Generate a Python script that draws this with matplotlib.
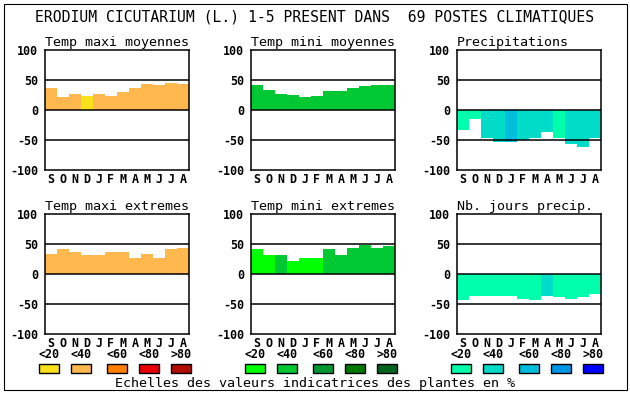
import matplotlib
matplotlib.use("Agg")
import matplotlib.pyplot as plt
from matplotlib.patches import Rectangle

### Data
months = ['S', 'O', 'N', 'D', 'J', 'F', 'M', 'A', 'M', 'J', 'J', 'A']

title = "ERODIUM CICUTARIUM (L.) 1-5 PRESENT DANS  69 POSTES CLIMATIQUES"
panel_titles = ["Temp maxi moyennes", "Temp mini moyennes", "Precipitations",
                "Temp maxi extremes", "Temp mini extremes", "Nb. jours precip."]

tmax_moy = [37, 22, 27, 23, 27, 23, 30, 37, 43, 42, 45, 43]
tmax_moy_cls = [1, 1, 1, 0, 1, 1, 1, 1, 1, 1, 1, 1]

tmin_moy = [42, 33, 27, 25, 22, 23, 32, 32, 37, 40, 42, 42]
tmin_moy_cls = [1, 1, 1, 1, 1, 1, 1, 1, 1, 1, 1, 1]

precip = [-34, -15, -47, -54, -53, -50, -47, -36, -47, -56, -61, -47]
precip_cls = [0, 0, 1, 1, 2, 1, 1, 1, 0, 1, 1, 1]

tmax_ext = [34, 42, 36, 32, 31, 36, 36, 27, 34, 27, 41, 44]
tmax_ext_cls = [1, 1, 1, 1, 1, 1, 1, 1, 1, 1, 1, 1]

tmin_ext = [42, 31, 32, 22, 27, 26, 41, 32, 44, 49, 44, 46]
tmin_ext_cls = [0, 0, 1, 0, 0, 0, 1, 1, 1, 1, 1, 1]

nb_jours = [-44, -36, -36, -36, -36, -41, -44, -36, -38, -41, -38, -34]
nb_jours_cls = [0, 0, 0, 0, 0, 0, 0, 1, 0, 0, 0, 0]

scale_labels = ['<20', '<40', '<60', '<80', '>80']
warm = ['#F8E01A', '#FFB84D', '#FF7F00', '#E80000', '#B00C00']
green = ['#00FF00', '#00C832', '#009632', '#007800', '#006420']
blue = ['#00FFAA', '#00DCC8', '#00BEDC', '#0096E6', '#0000FF']
legend_text = "Echelles des valeurs indicatrices des plantes en %"

W, H = 630, 394
MONO = 'DejaVu Sans Mono'

def fx(x):
    return x / W

def fy(y):
    return 1 - y / H

fig = plt.figure(figsize=(W / 100, H / 100), dpi=100)

# outer frame
fig.patches.append(Rectangle((fx(4), fy(390)), fx(623), 386 / H, transform=fig.transFigure,
                             fill=False, edgecolor='black', linewidth=0.8))

fig.text(0.5, fy(17), title, ha='center', va='center', family=MONO, fontsize=10.6)

panels = [(tmax_moy, tmax_moy_cls, warm), (tmin_moy, tmin_moy_cls, green),
          (precip, precip_cls, blue), (tmax_ext, tmax_ext_cls, warm),
          (tmin_ext, tmin_ext_cls, green), (nb_jours, nb_jours_cls, blue)]
lefts = [45, 251, 457]
tops = [50, 214]

for i, (vals, cls, pal) in enumerate(panels):
    left = lefts[i % 3]
    top = tops[i // 3]
    ax = fig.add_axes([fx(left), fy(top + 120), 144 / W, 120 / H])
    xs = [k + 0.5 for k in range(len(vals))]
    ax.bar(xs, vals, width=1.0, color=[pal[c] for c in cls], linewidth=0)
    for g in (-50, 0, 50):
        ax.axhline(g, color='black', linewidth=1.1, zorder=3)
    ax.set_xlim(0, 12)
    ax.set_ylim(-100, 100)
    ax.set_xticks(xs)
    ax.set_xticklabels(months, family=MONO, fontsize=8.4, weight='bold')
    ax.set_yticks([-100, -50, 0, 50, 100])
    ax.set_yticklabels(['-100', '-50', '0', '50', '100'], family=MONO, fontsize=8.4, weight='bold')
    ax.tick_params(length=0, pad=2)
    ax.tick_params(axis='y', pad=5)
    for s in ax.spines.values():
        s.set_linewidth(1.1)
    fig.text(fx(left), fy(top - 4), panel_titles[i], ha='left', va='baseline',
             family=MONO, fontsize=9.6)

### Legend swatches
group_starts = [39, 245, 451]
offsets = [0, 32, 68, 100, 132]
for g, pal in zip(group_starts, [warm, green, blue]):
    for off, col, lab in zip(offsets, pal, scale_labels):
        fig.patches.append(Rectangle((fx(g + off), fy(373)), 20 / W, 9 / H,
                                     transform=fig.transFigure, facecolor=col,
                                     edgecolor='black', linewidth=1.0))
        fig.text(fx(g + off + 10), fy(355), lab, ha='center', va='center',
                 family=MONO, fontsize=8.4, weight='bold')

fig.text(0.5, fy(383), legend_text, ha='center', va='center', family=MONO, fontsize=9.6)

fig.savefig('out.png', dpi=100)
